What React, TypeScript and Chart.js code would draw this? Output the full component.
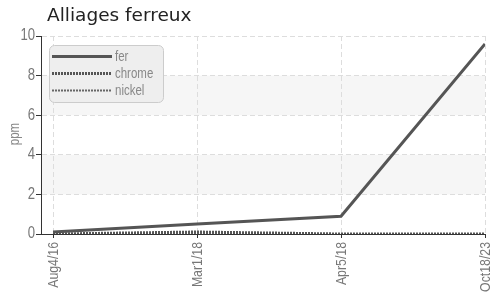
import React, { useEffect, useRef } from "react";
import { Chart, registerables } from "chart.js";

Chart.register(...registerables);

const titleText = "Alliages ferreux";
const yAxisTitle = "ppm";
const categories = ["Aug4/16", "Mar1/18", "Apr5/18", "Oct18/23"];
const seriesNames = ["fer", "chrome", "nickel"];
const ferValues = [0.1, 0.5, 0.9, 9.6];
const chromeValues = [0, 0.1, 0, 0];
const nickelValues = [0, 0.02, 0, 0];
const yTicks = [0, 2, 4, 6, 8, 10];

const sans = '"Liberation Sans", Arial, sans-serif';
const SQUEEZE = 0.82;

const styles = [
  { color: "#555555", width: 3, dash: [] as number[] },
  { color: "#555555", width: 3, dash: [2, 1] },
  { color: "#666666", width: 2, dash: [2, 1] },
];

function narrowText(ctx: any, text: string, x: number, y: number, rot: number, align: string) {
  ctx.save();
  ctx.translate(x, y);
  ctx.rotate(rot);
  ctx.scale(SQUEEZE, 1);
  ctx.textAlign = align;
  ctx.fillText(text, 0, 0);
  ctx.restore();
}

const bandsPlugin = {
  id: "bands",
  beforeDraw(chart: any) {
    const { ctx, chartArea, scales } = chart;
    const y = scales.y;
    ctx.save();
    ctx.fillStyle = "#f6f6f6";
    for (let i = 1; i + 1 < yTicks.length; i += 2) {
      const top = y.getPixelForValue(yTicks[i + 1]);
      const bottom = y.getPixelForValue(yTicks[i]);
      ctx.fillRect(chartArea.left, top, chartArea.right - chartArea.left, bottom - top);
    }
    ctx.restore();
  },
};

const overlayPlugin = {
  id: "overlay",
  afterDraw(chart: any) {
    const { ctx, chartArea, scales } = chart;
    ctx.save();
    // title
    ctx.fillStyle = "#222222";
    ctx.font = '18.5px "DejaVu Sans", sans-serif';
    ctx.textBaseline = "alphabetic";
    ctx.textAlign = "left";
    ctx.fillText(titleText, 47, 21);

    // y tick labels
    ctx.fillStyle = "#777777";
    ctx.font = "16px " + sans;
    ctx.textBaseline = "middle";
    yTicks.forEach((v) => {
      narrowText(ctx, String(v), chartArea.left - 6, scales.y.getPixelForValue(v), 0, "right");
    });
    // x tick labels
    ctx.font = "15px " + sans;
    categories.forEach((c, i) => {
      narrowText(ctx, c, scales.x.getPixelForValue(i) + 0.5, chartArea.bottom + 8, -Math.PI / 2, "right");
    });
    // y axis title
    ctx.fillStyle = "#888888";
    ctx.font = "14px " + sans;
    narrowText(ctx, yAxisTitle, 15.5, 134, -Math.PI / 2, "center");

    // legend box
    const bx = chartArea.left + 8.5;
    const by = chartArea.top + 9.5;
    const bw = 114;
    const bh = 57;
    ctx.beginPath();
    ctx.roundRect(bx, by, bw, bh, 5);
    ctx.fillStyle = "#eeeeee";
    ctx.fill();
    ctx.strokeStyle = "#cccccc";
    ctx.lineWidth = 1;
    ctx.stroke();
    ctx.font = "14px " + sans;
    ctx.textBaseline = "middle";
    chart.data.datasets.forEach((ds: any, i: number) => {
      const yy = by + 11 + i * 17;
      ctx.beginPath();
      ctx.setLineDash(styles[i].dash);
      ctx.strokeStyle = styles[i].color;
      ctx.lineWidth = styles[i].width;
      ctx.moveTo(bx + 2.5, yy);
      ctx.lineTo(bx + 62.5, yy);
      ctx.stroke();
      ctx.setLineDash([]);
      ctx.fillStyle = "#888888";
      narrowText(ctx, ds.label, bx + 65.5, yy + 1, 0, "left");
    });
    ctx.restore();
  },
};

export default function App() {
  const ref = useRef<HTMLCanvasElement | null>(null);
  useEffect(() => {
    if (!ref.current) return;
    const allValues = [ferValues, chromeValues, nickelValues];
    const chart = new Chart(ref.current, {
      type: "line",
      data: {
        datasets: allValues.map((vals, i) => ({
          label: seriesNames[i],
          data: vals.map((v, k) => ({ x: k, y: v })),
          borderColor: styles[i].color,
          borderWidth: styles[i].width,
          borderDash: styles[i].dash,
          pointRadius: 0,
          fill: false,
          tension: 0,
        })),
      },
      options: {
        responsive: false,
        animation: false,
        layout: { padding: { top: 36, right: 0, left: 0, bottom: 0 } },
        plugins: { legend: { display: false }, tooltip: { enabled: false } },
        scales: {
          x: {
            type: "linear",
            min: -0.0835,
            max: categories.length - 1,
            afterBuildTicks: (scale: any) => {
              scale.ticks = categories.map((_, i) => ({ value: i }));
            },
            afterFit: (scale: any) => {
              scale.height = 58;
              scale.paddingRight = 8;
              scale.paddingLeft = 0;
            },
            grid: {
              color: "#dddddd",
              tickColor: "#333333",
              tickLength: 4,
              tickBorderDash: [],
            },
            border: { display: true, color: "#333333", dash: [5, 3] },
            ticks: { display: false },
          },
          y: {
            min: 0,
            max: 10,
            afterBuildTicks: (scale: any) => {
              scale.ticks = yTicks.map((v) => ({ value: v }));
            },
            afterFit: (scale: any) => {
              scale.width = 41;
            },
            grid: {
              color: "#dddddd",
              tickColor: "#333333",
              tickLength: 5,
              tickBorderDash: [],
            },
            border: { display: true, color: "#333333", dash: [5, 3] },
            ticks: { display: false },
          },
        },
      },
      plugins: [bandsPlugin, overlayPlugin],
    } as any);
    return () => chart.destroy();
  }, []);
  return (
    <div style={{ position: "fixed", left: 0, top: 0, width: 493, height: 292, background: "#fff" }}>
      <canvas ref={ref} width={493} height={292} style={{ width: 493, height: 292 }} />
    </div>
  );
}
